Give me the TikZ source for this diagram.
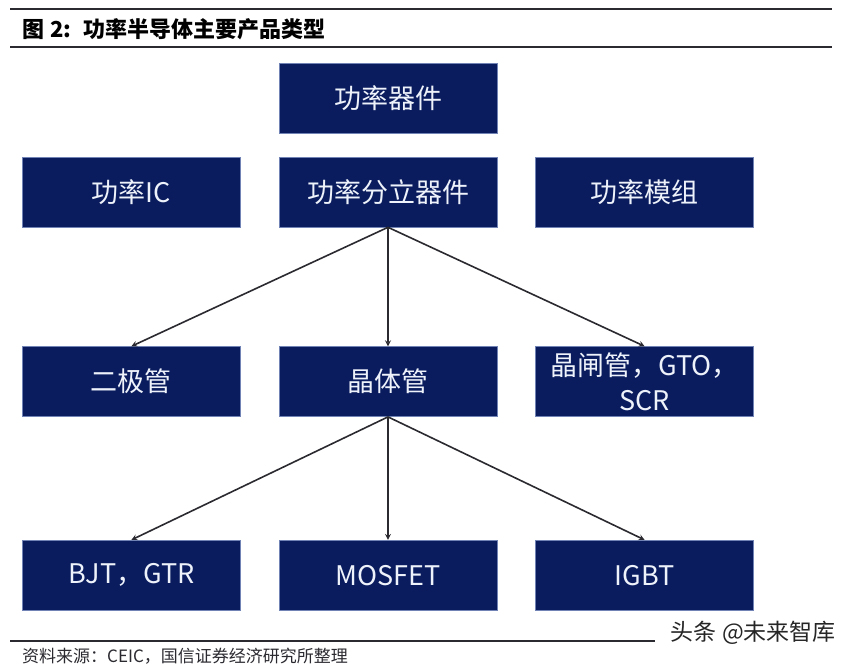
\documentclass[tikz,border=0pt]{standalone}
\usepackage{fontspec}
\setmainfont{Noto Sans CJK SC}
\usetikzlibrary{arrows,positioning}

\definecolor{boxnavy}{HTML}{0A1C5E}
\definecolor{boxedge}{HTML}{7083B4}
\definecolor{boxtext}{HTML}{EEF2FA}
\definecolor{inkgray}{HTML}{2A2A30}

\begin{document}
\begin{tikzpicture}[
    x=1pt, y=-1pt,
    node distance=23pt and 38pt,
    box/.style={rectangle, draw=boxedge, line width=0.6pt, fill=boxnavy, text=boxtext, minimum width=218pt, minimum height=70pt, inner sep=2pt, align=center, font=\fontsize{27}{35}\selectfont},
    arrow/.style={->, >=stealth, line width=1.6pt, draw=inkgray},
    rulel/.style={line width=1.2pt, draw=inkgray}
]
    \useasboundingbox (0,0) rectangle (855,668);

    % Header and footer
    \coordinate (topl) at (10,9);
    \coordinate (topr) at (832,9);
    \coordinate (midl) at (10,47);
    \coordinate (midr) at (832,47);
    \coordinate (botl) at (10,641);
    \coordinate (botr) at (655,641);
    \draw[rulel] (topl) -- (topr);
    \draw[rulel] (midl) -- (midr);
    \draw[rulel] (botl) -- (botr);
    \node[anchor=west, inner sep=0pt, font=\fontsize{22}{25}\selectfont\bfseries] (title) at (22,29) {图\hspace{6pt}2:\hspace{12pt}功率半导体主要产品类型};
    \node[anchor=west, inner sep=0pt, text=inkgray, font=\fontsize{17}{20}\selectfont] (source) at (22,656) {资料来源：CEIC，国信证券经济研究所整理};
    \node[anchor=east, inner sep=0pt, text=black!85, font=\fontsize{23}{26}\selectfont] (mark) at (836,633) {头条 @未来智库};

    % Second row (centre first, rest around it)
    \node[box] (discrete) at (388,192) {功率分立器件};
    \node[box, above=of discrete] (device) {功率器件};
    \node[box, left=of discrete] (ic) {功率IC};
    \node[box, right=of discrete] (module) {功率模组};

    % Third row
    \node[box, below=119pt of discrete] (transistor) {晶体管};
    \node[box, left=of transistor] (diode) {二极管};
    \node[box, right=of transistor] (thyristor) {晶闸管，GTO，\\SCR};

    % Fourth row
    \node[box, below=123pt of transistor] (mosfet) {MOSFET};
    \node[box, left=of mosfet] (bjt) {BJT，GTR};
    \node[box, right=of mosfet] (igbt) {IGBT};

    % Connections
    \draw[arrow] (discrete.south) -- (diode.north);
    \draw[arrow] (discrete.south) -- (transistor.north);
    \draw[arrow] (discrete.south) -- (thyristor.north);
    \draw[arrow] (transistor.south) -- (bjt.north);
    \draw[arrow] (transistor.south) -- (mosfet.north);
    \draw[arrow] (transistor.south) -- (igbt.north);
\end{tikzpicture}
\end{document}
